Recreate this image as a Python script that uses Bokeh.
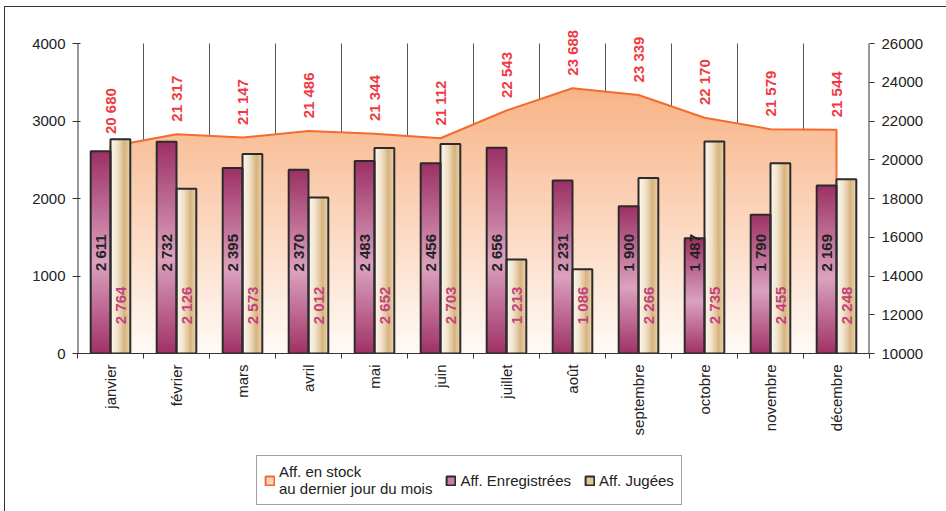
import numpy as np
from bokeh.plotting import figure
from bokeh.layouts import column
from bokeh.models import (Range1d, LinearAxis, FixedTicker, Legend, LegendItem)
from bokeh.embed import file_html
from bokeh.resources import INLINE
from bokeh.core.properties import value

# --- data -------------------------------------------------------------
months = ["janvier", "février", "mars", "avril", "mai", "juin", "juillet",
          "août", "septembre", "octobre", "novembre", "décembre"]
enregistrees = [2611, 2732, 2395, 2370, 2483, 2456, 2656, 2231, 1900, 1487, 1790, 2169]
jugees = [2764, 2126, 2573, 2012, 2652, 2703, 1213, 1086, 2266, 2735, 2455, 2248]
stock = [20680, 21317, 21147, 21486, 21344, 21112, 22543, 23688, 23339, 22170, 21579, 21544]
left_ticks = [0, 1000, 2000, 3000, 4000]
right_ticks = [10000, 12000, 14000, 16000, 18000, 20000, 22000, 24000, 26000]

FONT = "Liberation Sans"


def fmt(v):
    return f"{v:,}".replace(",", " ")


def hex2rgb(h):
    h = h.lstrip("#")
    return np.array([int(h[i:i + 2], 16) for i in (0, 2, 4)], dtype=float)


def ramp(stops, t):
    """Colour at position t (0..1) along a list of (pos, hex) stops."""
    pos = [s[0] for s in stops]
    cols = np.array([hex2rgb(s[1]) for s in stops])
    rgb = [np.interp(t, pos, cols[:, c]) for c in range(3)]
    return "#%02x%02x%02x" % tuple(int(round(c)) for c in rgb)


PURPLE = [(0.0, "#9c3064"), (0.55, "#dba2bf"), (1.0, "#a03165")]
BEIGE = [(0.0, "#fcf8f1"), (0.35, "#f1e3cc"), (0.72, "#d6b27c"), (1.0, "#ead6b4")]
PEACH = [(0.0, "#fffaf6"), (1.0, "#f8b386")]
LINE_ORANGE = "#f26b2f"
OUTLINE = "#2b2b2b"
AXIS = "#333333"

# --- geometry (pixels, inside the bordered box) --------------------------
W = 941
H_CHART, H_LEGEND = 436, 68
plot_left, plot_right = 72, 864      # frame edges
axis_top, axis_bottom = 36, 346      # where the 4000 / 0 levels sit
frame_top = 18                        # frame reaches a little higher for the labels
left_min, left_max = 0, 4000
right_min, right_max = 10000, 26000
stretch = (axis_bottom - frame_top) / (axis_bottom - axis_top)

p = figure(width=W, height=H_CHART,
           x_range=Range1d(0, 12),
           y_range=Range1d(left_min, left_min + (left_max - left_min) * stretch),
           output_backend="svg", toolbar_location=None,
           min_border_left=plot_left, min_border_right=W - plot_right,
           min_border_top=frame_top, min_border_bottom=H_CHART - axis_bottom)
p.extra_y_ranges = {"stock": Range1d(right_min, right_min + (right_max - right_min) * stretch)}
p.outline_line_color = None
p.background_fill_color = "white"
p.border_fill_color = "white"

# axes
ya = p.yaxis[0]
ya.ticker = FixedTicker(ticks=left_ticks)
ra = LinearAxis(y_range_name="stock", ticker=FixedTicker(ticks=right_ticks))
p.add_layout(ra, "right")
for ax in (ya, ra):
    ax.axis_line_color = None
    ax.major_tick_line_color = AXIS
    ax.major_tick_out = 5
    ax.major_tick_in = 3
    ax.minor_tick_line_color = None
    ax.major_label_text_font = FONT
    ax.major_label_text_font_size = "15px"
    ax.major_label_text_color = "#222222"
ya.major_label_standoff = 7
ra.major_tick_in = 0
ra.major_label_standoff = 7

xc = np.arange(12) + 0.5
xa = p.xaxis[0]
xa.ticker = FixedTicker(ticks=list(xc), minor_ticks=list(range(13)))
xa.major_label_overrides = {float(x): m for x, m in zip(xc, months)}
xa.major_label_orientation = np.pi / 2
xa.major_tick_out = 0
xa.major_tick_in = 0
xa.major_tick_line_color = None
xa.minor_tick_out = 5
xa.minor_tick_in = 0
xa.minor_tick_line_color = AXIS
xa.axis_line_color = AXIS
xa.major_label_standoff = 6
xa.major_label_text_font = FONT
xa.major_label_text_font_size = "15px"
xa.major_label_text_color = "#222222"

p.xgrid.grid_line_color = None
p.ygrid.grid_line_color = None

# month separators and the two vertical axis lines, stopping at the 4000 level
seps = list(range(1, 12))
p.segment(x0=seps, x1=seps, y0=[left_min] * len(seps), y1=[left_max] * len(seps),
          line_color="#555555", line_width=1)
p.segment(x0=[0, 12], x1=[0, 12], y0=[left_min] * 2, y1=[left_max] * 2,
          line_color=AXIS, line_width=2)

# --- stock area with a vertical colour ramp -----------------------------
base = right_min
top = max(stock)
nb = 48
levels = np.linspace(base, top, nb + 1)
# break points: data points plus every place the line crosses a band edge
xs = list(xc)
for i in range(len(stock) - 1):
    y_a, y_b = stock[i], stock[i + 1]
    for L in levels:
        if (y_a - L) * (y_b - L) < 0:
            xs.append(xc[i] + (L - y_a) / (y_b - y_a))
xs = np.sort(np.array(xs))
ys = np.interp(xs, xc, stock)
# paint from the largest (darkest) region down to the smallest one
for k in range(nb - 1, -1, -1):
    hi = levels[k + 1]
    p.varea(x=xs, y1=base, y2=np.minimum(ys, hi),
            fill_color=ramp(PEACH, (k + 0.5) / nb), y_range_name="stock")

outline_x = np.concatenate([[xc[0]], xc, [xc[-1]]])
outline_y = np.concatenate([[base], stock, [base]])
p.line(outline_x, outline_y, line_color=LINE_ORANGE, line_width=2, y_range_name="stock")

# --- bars --------------------------------------------------------------
bw = 0.3
ns = 60
pl, pr, pb, pt, pc = [], [], [], [], []
for x, v in zip(xc, enregistrees):
    step = v / ns
    for k in range(ns):
        pl.append(x - bw)
        pr.append(x)
        pb.append(k * step)
        pt.append(min(v, (k + 1.8) * step))
        pc.append(ramp(PURPLE, 1 - (k + 0.5) / ns))
p.quad(left=pl, right=pr, bottom=pb, top=pt, fill_color=pc, line_color=None)

ms = 24
bl, br, bb, bt, bc = [], [], [], [], []
for x, v in zip(xc, jugees):
    w = bw / ms
    for j in range(ms):
        bl.append(x + j * w)
        br.append(min(x + bw, x + (j + 1.6) * w))
        bb.append(0)
        bt.append(v)
        bc.append(ramp(BEIGE, (j + 0.5) / ms))
p.quad(left=bl, right=br, bottom=bb, top=bt, fill_color=bc, line_color=None)

p.quad(left=xc - bw, right=xc, bottom=0, top=enregistrees,
       fill_color=None, line_color=OUTLINE, line_width=2)
p.quad(left=xc, right=xc + bw, bottom=0, top=jugees,
       fill_color=None, line_color=OUTLINE, line_width=2)

# --- value labels -----------------------------------------------------
p.text(x=xc - bw / 2, y=[1300] * 12, text=[fmt(v) for v in enregistrees], angle=np.pi / 2,
       text_font=value(FONT), text_font_style="bold", text_font_size="15px",
       text_color="#222222", text_align="center", text_baseline="middle")
p.text(x=xc + bw / 2, y=[620] * 12, text=[fmt(v) for v in jugees], angle=np.pi / 2,
       text_font=value(FONT), text_font_style="bold", text_font_size="15px",
       text_color="#c2417e", text_align="center", text_baseline="middle")
p.text(x=xc, y=[s + 650 for s in stock], text=[fmt(v) for v in stock], angle=np.pi / 2,
       text_font=value(FONT), text_font_style="bold", text_font_size="15px",
       text_color="#ee3a43", text_align="left", text_baseline="middle",
       y_range_name="stock")

# --- legend strip underneath -------------------------------------------
lg = figure(width=W, height=H_LEGEND, x_range=Range1d(0, 1), y_range=Range1d(0, 1),
            output_backend="svg", toolbar_location=None,
            x_axis_location=None, y_axis_location=None, min_border=0)
lg.outline_line_color = None
lg.grid.visible = False
lg.background_fill_color = "white"
lg.border_fill_color = "white"
# swatch renderers sit outside the visible ranges; only their legend icons show
far = dict(left=[-10], right=[-9], bottom=[-10], top=[-9])
r_stock = lg.quad(**far, fill_color="#fcd6bb", line_color=LINE_ORANGE, line_width=2)
r_enr = lg.quad(**far, fill_color="#c97fa4", line_color=OUTLINE, line_width=2)
r_jug = lg.quad(**far, fill_color="#e3c79c", line_color=OUTLINE, line_width=2)
legend = Legend(items=[
    LegendItem(label="Aff. en stock\nau dernier jour du mois", renderers=[r_stock]),
    LegendItem(label="Aff. Enregistrées", renderers=[r_enr]),
    LegendItem(label="Aff. Jugées", renderers=[r_jug]),
], orientation="horizontal", location=(179, 6))
legend.border_line_color = "#444444"
legend.border_line_width = 1
legend.background_fill_color = "white"
legend.background_fill_alpha = 1
legend.padding = 7
legend.spacing = 13
legend.margin = 0
legend.glyph_width = 11
legend.glyph_height = 11
legend.label_standoff = 4
legend.label_text_font = FONT
legend.label_text_font_size = "15px"
legend.label_text_color = "#222222"
lg.add_layout(legend, "center")

page = column(p, lg, spacing=0, margin=(6, 0, 0, 4),
              styles={"border-top": "1px solid #333333", "border-left": "1px solid #333333"})

open("out.html", "w").write(file_html(page, INLINE))
